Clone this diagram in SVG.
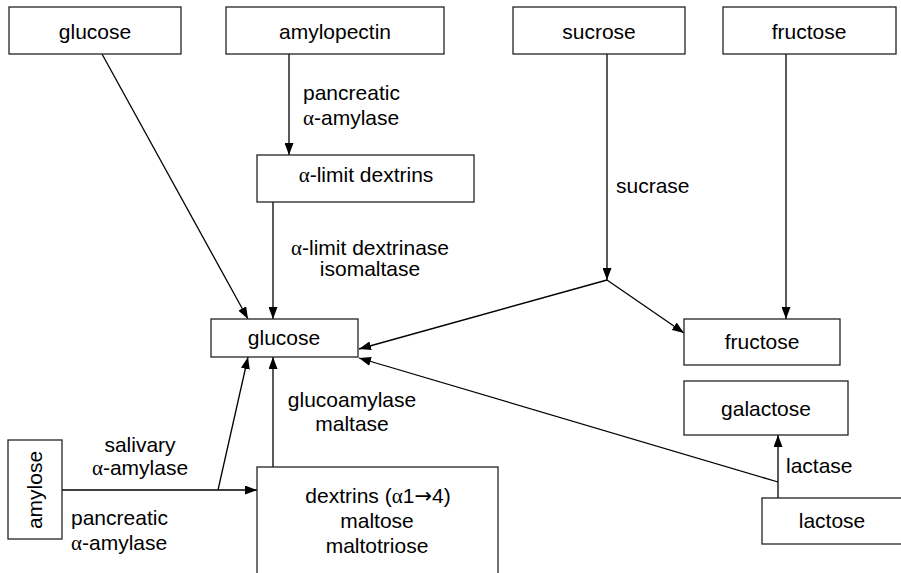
<svg xmlns="http://www.w3.org/2000/svg" width="901" height="573" viewBox="0 0 901 573">
  <defs>
    <marker id="arrow" viewBox="0 0 12 9" refX="12" refY="4.5" markerWidth="12" markerHeight="9" markerUnits="userSpaceOnUse" orient="auto">
      <path d="M0,0 L12,4.5 L0,9 Z" fill="#000"/>
    </marker>
    <style>
      .box { fill: #fff; stroke: #222; stroke-width: 1.3; }
      .lbl { font-family: "Liberation Sans", Arial, sans-serif; font-size: 21px; fill: #000; }
      .mid { text-anchor: middle; }
      .gk { font-family: "Liberation Serif", "Times New Roman", serif; }
      .sym { font-family: "DejaVu Sans", sans-serif; }
      .edge { fill: none; stroke: #000; stroke-width: 1.3; }
      .arr { marker-end: url(#arrow); }
    </style>
  </defs>

  <rect width="901" height="573" fill="#fff"/>

  <!-- connectors -->
  <g id="connectors">
    <line class="edge arr" x1="102" y1="54" x2="248" y2="319"/>
    <line class="edge arr" x1="289" y1="54" x2="289" y2="155"/>
    <line class="edge arr" x1="273" y1="202" x2="273" y2="319"/>
    <line class="edge arr" x1="607" y1="54" x2="607" y2="280"/>
    <line class="edge arr" x1="786" y1="54" x2="786" y2="319"/>
    <line class="edge arr" x1="607" y1="280" x2="684" y2="333"/>
    <line class="edge arr" x1="607" y1="280" x2="359" y2="349"/>
    <line class="edge arr" x1="778" y1="498" x2="778" y2="435"/>
    <line class="edge arr" x1="778" y1="482" x2="359" y2="358"/>
    <line class="edge arr" x1="62" y1="490" x2="257" y2="490"/>
    <line class="edge arr" x1="218" y1="490" x2="248" y2="357"/>
    <line class="edge arr" x1="273" y1="467" x2="273" y2="357"/>
  </g>

  <!-- enzyme labels -->
  <g id="edge-labels" class="lbl">
    <text x="303" y="100">pancreatic</text>
    <text x="303" y="125"><tspan class="gk">α</tspan>-amylase</text>
    <text class="mid" x="370" y="255"><tspan class="gk">α</tspan>-limit dextrinase</text>
    <text class="mid" x="370" y="276">isomaltase</text>
    <text x="616" y="193">sucrase</text>
    <text class="mid" x="352" y="407">glucoamylase</text>
    <text class="mid" x="352" y="431">maltase</text>
    <text class="mid" x="140" y="452">salivary</text>
    <text class="mid" x="140" y="475"><tspan class="gk">α</tspan>-amylase</text>
    <text x="71" y="525">pancreatic</text>
    <text x="71" y="550"><tspan class="gk">α</tspan>-amylase</text>
    <text x="786" y="473">lactase</text>
  </g>

  <!-- nodes -->
  <g id="glucose-top">
    <rect class="box" x="9" y="7" width="172" height="47"/>
    <text class="lbl mid" x="95" y="39">glucose</text>
  </g>
  <g id="amylopectin">
    <rect class="box" x="226" y="7" width="218" height="47"/>
    <text class="lbl mid" x="335" y="39">amylopectin</text>
  </g>
  <g id="sucrose">
    <rect class="box" x="513" y="7" width="172" height="47"/>
    <text class="lbl mid" x="599" y="39">sucrose</text>
  </g>
  <g id="fructose-top">
    <rect class="box" x="723" y="7" width="173" height="47"/>
    <text class="lbl mid" x="809" y="39">fructose</text>
  </g>
  <g id="alpha-limit-dextrins">
    <rect class="box" x="257" y="155" width="217" height="47"/>
    <text class="lbl mid" x="366" y="182"><tspan class="gk">α</tspan>-limit dextrins</text>
  </g>
  <g id="glucose">
    <rect class="box" x="211" y="319" width="147" height="38"/>
    <text class="lbl mid" x="284" y="345">glucose</text>
  </g>
  <g id="fructose">
    <rect class="box" x="684" y="319" width="156" height="46"/>
    <text class="lbl mid" x="762" y="349">fructose</text>
  </g>
  <g id="galactose">
    <rect class="box" x="684" y="381" width="164" height="54"/>
    <text class="lbl mid" x="766" y="416">galactose</text>
  </g>
  <g id="lactose">
    <rect class="box" x="762" y="498" width="150" height="46"/>
    <text class="lbl mid" x="832" y="528">lactose</text>
  </g>
  <g id="amylose">
    <rect class="box" x="8" y="440" width="54" height="99"/>
    <text class="lbl mid" transform="translate(42,490) rotate(-90)">amylose</text>
  </g>
  <g id="dextrins">
    <rect class="box" x="257" y="467" width="241" height="120"/>
    <text class="lbl mid" x="378" y="503">dextrins (<tspan class="gk">α</tspan>1<tspan class="sym">→</tspan>4)</text>
    <text class="lbl mid" x="377" y="528">maltose</text>
    <text class="lbl mid" x="377" y="553">maltotriose</text>
  </g>
</svg>
